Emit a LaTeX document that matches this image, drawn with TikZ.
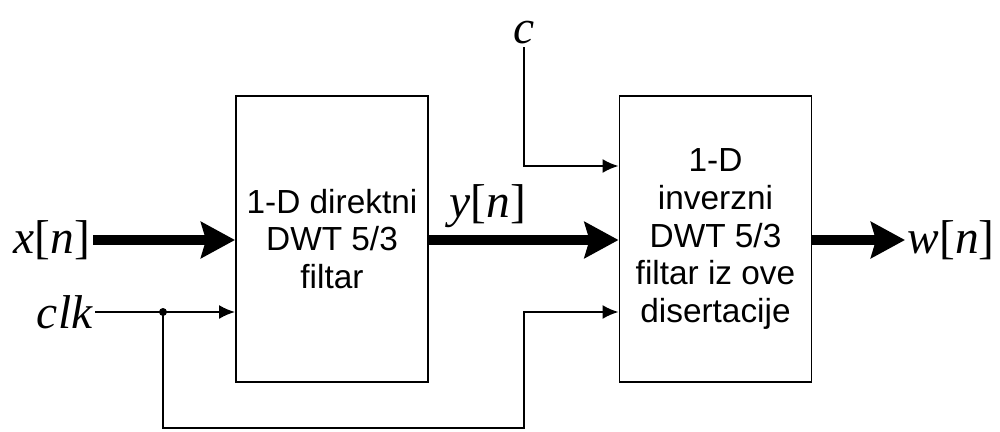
\documentclass[tikz,border=0pt]{standalone}
\usepackage{fontspec}
\setmainfont{Liberation Sans}
\newfontfamily\timesfont{Liberation Serif}
\usetikzlibrary{arrows.meta}
\newcommand{\sig}[1]{{\timesfont\itshape #1}}
\newcommand{\sigidx}[2]{\sig{#1}{\timesfont[}\sig{#2}{\timesfont]}}

\begin{document}
\begin{tikzpicture}[>={Latex[length=0.32cm,width=0.28cm]}, line width=1.1pt,
		block/.style={draw, minimum width=3.84cm, minimum height=5.72cm, align=center, font=\fontsize{19}{21.5}\selectfont},
		lbl/.style={inner sep=1pt, font=\fontsize{27}{30}\selectfont},
		bus/.style={line width=0.2cm, -{Stealth[length=0.68cm,width=0.72cm,inset=0.1cm]}}]
		        \useasboundingbox (0,0) rectangle (20,8.62);
		        \node[block] (dir) at (6.64,3.84) {1-D direktni\\DWT 5/3\\filtar};
		        \node[block] (inv) at (14.31,3.84) {1-D\\inverzni\\DWT 5/3\\filtar iz ove\\disertacije};
		        \coordinate (xin) at (1.86,3.82);
		        \coordinate (clkin) at (1.9,2.38);
		        \coordinate (cin) at (10.48,7.68);
		        \coordinate (wout) at (18.1,3.82);
		        \node[lbl, anchor=east] (xlbl) at (xin) {\sigidx{x}{n}};
		        \node[lbl, anchor=east] (clklbl) at (clkin) {\sig{clk}};
		        \node[lbl, anchor=south] (clbl) at (cin) {\sig{c}};
		        \node[lbl, anchor=west] (wlbl) at (wout) {\sigidx{w}{n}};
		        \node[lbl] (ylbl) at (9.76,4.5) {\sigidx{y}{n}};
		        \draw[bus] (xin) -- (xin -| dir.west);
		        \draw[bus] (dir.east |- xin) -- (inv.west |- xin);
		        \draw[bus] (inv.east |- wout) -- (wout);
		        \coordinate (split) at (3.26,2.38);
		        \draw[->] (clkin) -- (clkin -| dir.west);
		        \fill (split) circle (0.08);
		        \draw[->] (split) |- (10.48,0.06) |- (inv.west |- clkin);
		        \draw[->] (cin) |- (inv.west |- 0,5.3);
		    \end{tikzpicture}
\end{document}
